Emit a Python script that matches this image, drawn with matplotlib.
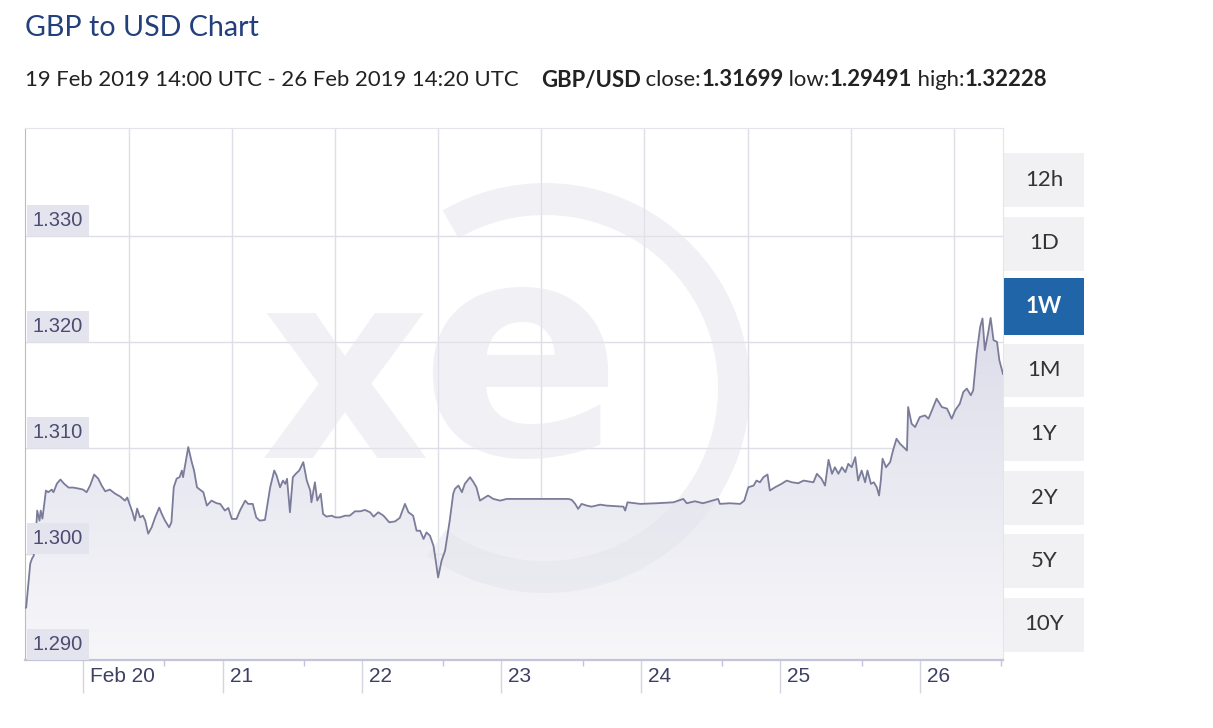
import numpy as np
import matplotlib.pyplot as plt
from matplotlib.patches import Rectangle, Wedge
from matplotlib.colors import LinearSegmentedColormap
from matplotlib.transforms import blended_transform_factory, offset_copy

W, H = 1213, 728

# GBP/USD rate, x = hours since 19 Feb 2019 00:00 UTC
hours = [14.0, 14.2, 14.9, 15.2, 15.5, 15.9, 16.1, 16.5, 16.7, 17.0, 17.6, 18.0, 18.6, 18.9,
         19.5, 20.1, 20.7, 21.5, 22.3, 23.2, 24.0, 24.6, 25.2, 25.9, 26.6, 27.2, 27.8, 28.6,
         29.5, 30.4, 31.2, 31.6, 32.1, 32.5, 32.9, 33.3, 33.8, 34.3, 34.7, 35.2, 35.8, 36.4,
         37.1, 37.5, 38.1, 38.8, 39.2, 39.6, 40.1, 40.6, 41.0, 41.2, 41.7, 42.1, 42.7, 43.1,
         43.6, 44.1, 44.7, 45.3, 46.1, 47.0, 47.6, 48.4, 49.0, 49.6, 50.4, 51.0, 51.9, 52.4,
         53.2, 53.8, 54.4, 55.3, 56.2, 56.9, 57.3, 57.9, 58.4, 58.8, 59.1, 59.6, 60.1, 60.6,
         61.2, 61.9, 62.5, 63.1, 63.3, 63.9, 64.3, 64.9, 65.3, 65.9, 66.8, 67.4, 68.2, 69.1,
         69.9, 70.8, 71.7, 72.5, 73.4, 74.0, 74.8, 75.7, 76.7, 77.7, 78.5, 79.4, 80.0, 80.8,
         81.4, 82.0, 82.6, 83.1, 83.7, 84.3, 84.7, 85.1, 85.7, 86.3, 87.1, 87.7, 88.0, 88.6,
         89.2, 89.7, 90.6, 91.2, 91.7, 92.3, 93.2, 93.7, 94.6, 95.8, 96.9, 98.6, 101.5, 104.4,
         106.7, 107.5, 108.1, 108.7, 109.2, 109.8, 110.7, 111.5, 113.0, 114.1, 117.0, 117.3,
         117.7, 119.9, 122.7, 125.6, 127.3, 127.9, 129.3, 130.7, 133.3, 133.6, 135.3, 137.1,
         137.8, 138.5, 139.4, 139.9, 140.5, 141.1, 141.8, 142.2, 143.1, 144.2, 145.1, 146.0,
         147.1, 148.0, 149.7, 150.3, 151.1, 151.7, 152.3, 152.9, 153.4, 154.0, 154.6, 155.2,
         155.7, 156.3, 156.9, 157.4, 158.0, 158.6, 159.0, 159.6, 160.1, 160.6, 161.0, 161.3,
         161.6, 162.2, 162.9, 163.4, 164.0, 164.6, 165.8, 166.0, 166.6, 167.2, 168.0, 168.9,
         169.5, 170.1, 170.9, 171.8, 172.7, 173.5, 174.1, 174.9, 175.5, 176.1, 176.8, 177.2,
         177.8, 178.4, 178.8, 179.2, 179.8, 180.2, 180.7, 181.3, 181.7, 182.33]
rate = [1.29491, 1.29495, 1.29908, 1.29956, 1.29984, 1.30220, 1.30410, 1.30315, 1.30410,
        1.30334, 1.30599, 1.30583, 1.30608, 1.30583, 1.30665, 1.30703, 1.30665, 1.30627,
        1.30627, 1.30618, 1.30608, 1.30583, 1.30646, 1.30750, 1.30712, 1.30646, 1.30592,
        1.30608, 1.30570, 1.30542, 1.30504, 1.30533, 1.30457, 1.30394, 1.30315, 1.30429,
        1.30346, 1.30362, 1.30315, 1.30192, 1.30252, 1.30346, 1.30438, 1.30384, 1.30315,
        1.30252, 1.30299, 1.30630, 1.30712, 1.30725, 1.30788, 1.30725, 1.30883, 1.31009,
        1.30867, 1.30788, 1.30630, 1.30608, 1.30583, 1.30457, 1.30504, 1.30479, 1.30473,
        1.30410, 1.30435, 1.30331, 1.30331, 1.30410, 1.30504, 1.30473, 1.30473, 1.30346,
        1.30315, 1.30322, 1.30630, 1.30788, 1.30741, 1.30630, 1.30693, 1.30662, 1.30710,
        1.30394, 1.30725, 1.30757, 1.30788, 1.30867, 1.30693, 1.30599, 1.30488, 1.30677,
        1.30504, 1.30568, 1.30378, 1.30353, 1.30362, 1.30346, 1.30346, 1.30362, 1.30362,
        1.30403, 1.30403, 1.30416, 1.30394, 1.30353, 1.30394, 1.30362, 1.30299, 1.30308,
        1.30341, 1.30473, 1.30394, 1.30362, 1.30220, 1.30220, 1.30142, 1.30204, 1.30173,
        1.30079, 1.29937, 1.29779, 1.29937, 1.30031, 1.30315, 1.30568, 1.30615, 1.30646,
        1.30583, 1.30662, 1.30725, 1.30677, 1.30630, 1.30504, 1.30535, 1.30552, 1.30520,
        1.30504, 1.30520, 1.30520, 1.30520, 1.30520, 1.30520, 1.30520, 1.30511, 1.30473,
        1.30426, 1.30473, 1.30457, 1.30447, 1.30466, 1.30457, 1.30447, 1.30410, 1.30488,
        1.30473, 1.30479, 1.30488, 1.30520, 1.30479, 1.30498, 1.30479, 1.30520, 1.30473,
        1.30479, 1.30473, 1.30504, 1.30630, 1.30646, 1.30693, 1.30677, 1.30725, 1.30750,
        1.30599, 1.30630, 1.30662, 1.30693, 1.30677, 1.30668, 1.30693, 1.30677, 1.30757,
        1.30710, 1.30646, 1.30889, 1.30757, 1.30819, 1.30757, 1.30819, 1.30772, 1.30851,
        1.30819, 1.30914, 1.30693, 1.30788, 1.30677, 1.30788, 1.30662, 1.30677, 1.30630,
        1.30552, 1.30693, 1.30899, 1.30819, 1.30867, 1.30977, 1.31088, 1.31041, 1.30977,
        1.31387, 1.31230, 1.31198, 1.31292, 1.31308, 1.31277, 1.31356, 1.31466, 1.31387,
        1.31372, 1.31277, 1.31356, 1.31419, 1.31529, 1.31561, 1.31498, 1.31545, 1.31892,
        1.32144, 1.32223, 1.31923, 1.32096, 1.32228, 1.32018, 1.32002, 1.31829, 1.31699]

close_rate, low_rate, high_rate = "1.31699", "1.29491", "1.32228"
range_text = "19 Feb 2019 14:00 UTC - 26 Feb 2019 14:20 UTC"
pair = "GBP/USD"

day_ticks = [24, 48, 72, 96, 120, 144, 168]
day_labels = ["Feb 20", "21", "22", "23", "24", "25", "26"]
minor_ticks = [38, 62, 86, 110, 134, 158, 182]
y_ticks = [1.300, 1.310, 1.320, 1.330]
y_labels = ["1.290", "1.300", "1.310", "1.320", "1.330"]
periods = ["12h", "1D", "1W", "1M", "1Y", "2Y", "5Y", "10Y"]
active = "1W"


def fx(px):
    return px / W


def fy(py):
    return 1 - py / H


fig = plt.figure(figsize=(W / 100, H / 100), dpi=100)
fig.patch.set_facecolor("white")
ax = fig.add_axes([fx(25), fy(660), fx(1003) - fx(25), fy(128) - fy(660)])
ax.set_xlim(14, 182.33)
ax.set_ylim(1.290, 1.3402)
ax.set_facecolor("white")

# grid
for v in y_ticks:
    ax.axhline(v, color="#dedee6", lw=1, zorder=0.5)
for k in range(9):
    f = (104 + 103.1 * k) / 978
    ax.plot([f, f], [0, 1], transform=ax.transAxes, color="#dedee6", lw=1, zorder=0.5)

# gradient area under the line
grad = np.linspace(0, 1, 256).reshape(-1, 1)
cmap = LinearSegmentedColormap.from_list("g", ["#f7f7fa", "#cdcee0"])
im = ax.imshow(grad, extent=[14, 182.33, 1.290, 1.3402], origin="lower",
               aspect="auto", cmap=cmap, zorder=1)
poly = ax.fill_between(hours, rate, 1.290, facecolor="none", edgecolor="none")
im.set_clip_path(poly.get_paths()[0], transform=ax.transData)

# xe watermark (drawn in inches so the ring stays round)
wm = "#e4e4ec"
ring = Wedge((5.45, (H - 388) / 100), 2.05, -125, 120, width=0.32,
             transform=fig.dpi_scale_trans, facecolor=wm, edgecolor="none",
             alpha=0.5, zorder=2)
ax.add_artist(ring)
ax.text(fx(345), fy(385), "x", transform=fig.transFigure, fontsize=190,
        fontweight="bold", family="DejaVu Sans", color=wm, alpha=0.5,
        ha="center", va="center", zorder=2)
ax.text(fx(520), fy(372), "e", transform=fig.transFigure, fontsize=215,
        fontweight="bold", family="DejaVu Sans", color=wm, alpha=0.5,
        ha="center", va="center", zorder=2)

ax.plot(hours, rate, color="#7a7c9a", lw=1.3, zorder=3)

for s in ["top", "right"]:
    ax.spines[s].set_color("#e4e4ea")
ax.spines["left"].set_color("#b9bacb")
ax.spines["bottom"].set_color("#c3c4da")
ax.spines["bottom"].set_linewidth(1.6)

# x ticks
ax.set_xticks(day_ticks)
ax.set_xticklabels([""] * len(day_ticks))
ax.set_xticks(minor_ticks, minor=True)
ax.tick_params(axis="x", which="major", length=24, color="#d4d5e2", width=1)
ax.tick_params(axis="x", which="minor", length=4, color="#c3c4da", width=1)
ax.set_yticks([])
xt = blended_transform_factory(ax.transData, ax.transAxes)
for t, lab in zip(day_ticks, day_labels):
    ax.text(t, 0, lab, transform=offset_copy(xt, fig=fig, x=7, y=-17, units="dots"),
            ha="left", va="center", fontsize=15, family="Liberation Sans",
            color="#3d3f63")

# y labels inside plot
yt = blended_transform_factory(ax.transAxes, ax.transData)
for v, lab in zip([1.290] + y_ticks, y_labels):
    ax.text(0.0, v, lab, transform=offset_copy(yt, fig=fig, x=8, y=6, units="dots"),
            ha="left", va="bottom", fontsize=14.5, family="Liberation Sans",
            color="#4a4c70",
            bbox=dict(boxstyle="square,pad=0.28", fc="#e4e4ef", ec="none"))

# title and subtitle
fig.text(fx(25), fy(28), "GBP to USD Chart", fontsize=20.6, family="Lato",
         color="#233f7c", va="center", ha="left")

renderer = fig.canvas.get_renderer()
pieces = [(range_text, "normal", 0), (pair, "bold", 22), (" close:", "normal", 0),
          (close_rate, "bold", 0), (" low:", "normal", 0), (low_rate, "bold", 0),
          (" high:", "normal", 0), (high_rate, "bold", 0)]
xpos = 25
for txt, wt, gap in pieces:
    xpos += gap
    t = fig.text(fx(xpos), fy(80), txt, fontsize=15.9, family="Lato", fontweight=wt,
                 color="#222222", va="center", ha="left")
    xpos = t.get_window_extent(renderer).x1

# period buttons
for i, p in enumerate(periods):
    top = 153 + 63.5 * i
    h = 54
    on = p == active
    if on:
        top -= 2
        h = 57
    fig.patches.append(Rectangle((fx(1004), fy(top + h)), fx(80), h / H,
                                 transform=fig.transFigure,
                                 facecolor="#1f65a8" if on else "#f1f1f4",
                                 edgecolor="none"))
    fig.text(fx(1044), fy(top + h / 2), p, fontsize=16, family="Lato",
             fontweight="bold" if on else "normal",
             color="white" if on else "#333333", ha="center", va="center")

fig.savefig("out.png", dpi=100)
